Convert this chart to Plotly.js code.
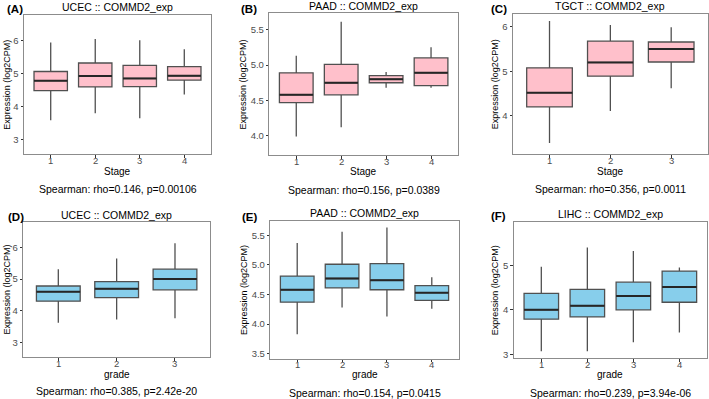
<!DOCTYPE html>
<html>
<head>
<meta charset="utf-8">
<script src="https://cdn.plot.ly/plotly-3.0.1.min.js"></script>
<style>html,body{margin:0;padding:0;background:#fff;}#chart{width:709px;height:399px;}</style>
</head>
<body>
<div id="chart"></div>
<script>
// ---- data ----
const stageCats4 = ['1', '2', '3', '4'];
const stageCats3 = ['1', '2', '3'];
const gradeCats3 = ['1', '2', '3'];
const gradeCats4 = ['1', '2', '3', '4'];

// (A) UCEC stage
const ucecStageLow = [3.58, 3.79, 3.64, 4.36];
const ucecStageQ1  = [4.48, 4.59, 4.60, 4.80];
const ucecStageMed = [4.78, 4.92, 4.85, 4.93];
const ucecStageQ3  = [5.06, 5.32, 5.25, 5.21];
const ucecStageUp  = [5.94, 6.05, 6.01, 5.74];

// (B) PAAD stage
const paadStageLow = [3.99, 4.12, 4.68, 4.68];
const paadStageQ1  = [4.47, 4.58, 4.75, 4.71];
const paadStageMed = [4.58, 4.75, 4.80, 4.89];
const paadStageQ3  = [4.89, 5.01, 4.85, 5.10];
const paadStageUp  = [5.13, 5.61, 4.90, 5.25];

// (C) TGCT stage
const tgctStageLow = [3.39, 4.11, 4.62];
const tgctStageQ1  = [4.20, 4.89, 5.21];
const tgctStageMed = [4.52, 5.20, 5.50];
const tgctStageQ3  = [5.08, 5.68, 5.66];
const tgctStageUp  = [6.13, 6.04, 5.99];

// (D) UCEC grade
const ucecGradeLow = [3.62, 3.72, 3.76];
const ucecGradeQ1  = [4.30, 4.41, 4.66];
const ucecGradeMed = [4.60, 4.69, 5.00];
const ucecGradeQ3  = [4.78, 4.92, 5.31];
const ucecGradeUp  = [5.31, 5.65, 6.13];

// (E) PAAD grade
const paadGradeLow = [3.83, 4.28, 4.13, 4.26];
const paadGradeQ1  = [4.37, 4.61, 4.58, 4.40];
const paadGradeMed = [4.58, 4.77, 4.74, 4.53];
const paadGradeQ3  = [4.81, 5.01, 5.02, 4.65];
const paadGradeUp  = [5.37, 5.56, 5.63, 4.79];

// (F) LIHC grade
const lihcGradeLow = [3.07, 3.07, 3.27, 3.49];
const lihcGradeQ1  = [3.79, 3.84, 4.00, 4.17];
const lihcGradeMed = [4.00, 4.09, 4.31, 4.51];
const lihcGradeQ3  = [4.37, 4.46, 4.62, 4.87];
const lihcGradeUp  = [4.97, 5.40, 5.32, 4.95];

const panelTitles = ['UCEC :: COMMD2_exp', 'PAAD :: COMMD2_exp', 'TGCT :: COMMD2_exp',
                     'UCEC :: COMMD2_exp', 'PAAD :: COMMD2_exp', 'LIHC :: COMMD2_exp'];
const panelLetters = ['(A)', '(B)', '(C)', '(D)', '(E)', '(F)'];
const xTitles = ['Stage', 'Stage', 'Stage', 'grade', 'grade', 'grade'];
const stats = ['Spearman: rho=0.146, p=0.00106', 'Spearman: rho=0.156, p=0.0389',
               'Spearman: rho=0.356, p=0.0011', 'Spearman: rho=0.385, p=2.42e-20',
               'Spearman: rho=0.154, p=0.0415', 'Spearman: rho=0.239, p=3.94e-06'];
const yTitle = 'Expression (log2CPM)';

// ---- layout geometry (pixels) ----
const W = 709, H = 399;
const PINK = '#FFC0CB', BLUE = '#87CEEB';
const BOXW = 0.75;
const panels = [
  {cats: stageCats4, low: ucecStageLow, q1: ucecStageQ1, med: ucecStageMed, q3: ucecStageQ3, up: ucecStageUp,
   fill: PINK, px: [24, 211], py: [15, 154], yr: [2.55, 6.78], dt: 1, fmt: 'd',
   ytX: 7.3, titleY: 6.7, lab: [4.7, 9], tkY: 160.8, xtY: 171.3, stY: 189},
  {cats: stageCats4, low: paadStageLow, q1: paadStageQ1, med: paadStageMed, q3: paadStageQ3, up: paadStageUp,
   fill: PINK, px: [269.3, 458], py: [13.3, 155], yr: [3.73, 5.73], dt: 0.5, fmt: '.1f',
   ytX: 243.3, titleY: 5.7, lab: [239.3, 9], tkY: 161.5, xtY: 171.8, stY: 190},
  {cats: stageCats3, low: tgctStageLow, q1: tgctStageQ1, med: tgctStageMed, q3: tgctStageQ3, up: tgctStageUp,
   fill: PINK, px: [513, 707.7], py: [14, 154], yr: [3.14, 6.29], dt: 1, fmt: 'd',
   ytX: 495.3, titleY: 5.7, lab: [488.7, 9], tkY: 160.5, xtY: 171, stY: 189},
  {cats: gradeCats3, low: ucecGradeLow, q1: ucecGradeQ1, med: ucecGradeMed, q3: ucecGradeQ3, up: ucecGradeUp,
   fill: BLUE, px: [23.3, 210], py: [222.3, 357.3], yr: [2.53, 6.79], dt: 1, fmt: 'd',
   ytX: 6.7, titleY: 215, lab: [6, 216.7], tkY: 363.8, xtY: 374.2, stY: 391.2},
  {cats: gradeCats4, low: paadGradeLow, q1: paadGradeQ1, med: paadGradeMed, q3: paadGradeQ3, up: paadGradeUp,
   fill: BLUE, px: [270.3, 458.7], py: [221, 358.5], yr: [3.42, 5.74], dt: 0.5, fmt: '.1f',
   ytX: 243.3, titleY: 213.3, lab: [240, 216.7], tkY: 364.2, xtY: 374.5, stY: 392.7},
  {cats: gradeCats4, low: lihcGradeLow, q1: lihcGradeQ1, med: lihcGradeMed, q3: lihcGradeQ3, up: lihcGradeUp,
   fill: BLUE, px: [513.7, 707], py: [221.7, 358.3], yr: [2.91, 5.98], dt: 1, fmt: 'd',
   ytX: 495.3, titleY: 214, lab: [488.7, 216], tkY: 364.2, xtY: 374.5, stY: 392.5}
];

const FONT = 'Liberation Sans, Arial, Helvetica, sans-serif';
const fx = p => p / W;
const fy = p => 1 - p / H;

const traces = [];
const layout = {
  width: W, height: H,
  margin: {l: 0, r: 0, t: 0, b: 0},
  paper_bgcolor: '#fff', plot_bgcolor: '#fff',
  showlegend: false,
  font: {family: FONT, color: '#000'},
  annotations: [],
  shapes: []
};

panels.forEach((p, i) => {
  const n = i + 1;
  const xa = n === 1 ? 'x' : 'x' + n;
  const ya = n === 1 ? 'y' : 'y' + n;
  traces.push({
    type: 'box',
    x: p.cats, q1: p.q1, median: p.med, q3: p.q3, lowerfence: p.low, upperfence: p.up,
    xaxis: xa, yaxis: ya,
    width: BOXW, whiskerwidth: 0, boxpoints: false,
    fillcolor: p.fill,
    line: {color: '#505050', width: 1.3},
    hoverinfo: 'skip'
  });
  // thicker median bar (ggplot fatten), placed through the axis scales
  p.med.forEach((m, k) => {
    layout.shapes.push({
      type: 'line', xref: xa, yref: ya,
      x0: k - BOXW / 2, x1: k + BOXW / 2, y0: m, y1: m,
      line: {color: '#262626', width: 2}
    });
  });
  const axBase = {
    showgrid: false, zeroline: false, showline: true, mirror: true,
    linecolor: '#8c8c8c', linewidth: 1,
    ticks: 'outside', ticklen: 2.5, tickwidth: 1, tickcolor: '#333',
    tickfont: {family: FONT, size: 9.5, color: '#4d4d4d'},
    fixedrange: true
  };
  layout['xaxis' + (n === 1 ? '' : n)] = Object.assign({}, axBase, {
    domain: [fx(p.px[0]), fx(p.px[1])], anchor: ya,
    type: 'category', range: [-0.6, p.cats.length - 0.4],
    ticklen: 2.5, showticklabels: false
  });
  layout['yaxis' + (n === 1 ? '' : n)] = Object.assign({}, axBase, {
    domain: [fy(p.py[1]), fy(p.py[0])], anchor: xa,
    range: p.yr, dtick: p.dt, tick0: 0, tickformat: p.fmt
  });
  const cx = (p.px[0] + p.px[1]) / 2;
  const cy = (p.py[0] + p.py[1]) / 2;
  const ann = (text, x, y, extra) => layout.annotations.push(Object.assign({
    text: text, xref: 'paper', yref: 'paper', x: fx(x), y: fy(y),
    xanchor: 'center', yanchor: 'middle', showarrow: false,
    font: {family: FONT, size: 10.5, color: '#000'}
  }, extra || {}));
  // x tick labels, placed on the category axis (by category index)
  p.cats.forEach((c, k) => {
    layout.annotations.push({
      text: c, xref: xa, yref: 'paper', x: k, y: fy(p.tkY),
      xanchor: 'center', yanchor: 'middle', showarrow: false, borderpad: 0,
      font: {family: FONT, size: 9.5, color: '#4d4d4d'}
    });
  });
  ann(panelTitles[i], cx, p.titleY);
  ann(panelLetters[i], p.lab[0], p.lab[1], {xanchor: 'left', font: {family: FONT, size: 11.5, color: '#000', weight: 'bold'}});
  ann(xTitles[i], cx, p.xtY, {borderpad: 0, font: {family: FONT, size: 10, color: '#000'}});
  ann(stats[i], cx, p.stY);
  ann(yTitle, p.ytX, cy, {textangle: -90, font: {family: FONT, size: 9, color: '#000'}});
});

Plotly.newPlot('chart', traces, layout, {staticPlot: true, displayModeBar: false});
</script>
</body>
</html>
